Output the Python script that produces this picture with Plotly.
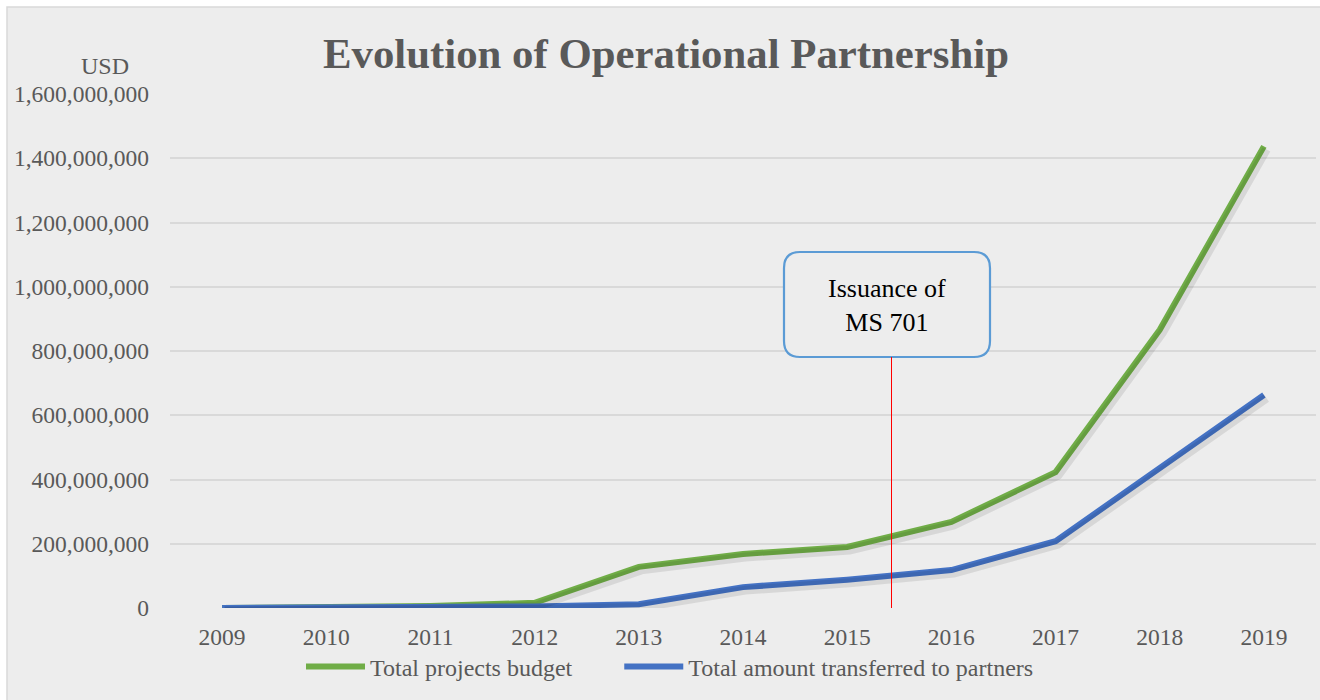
import plotly.graph_objects as go

years = ["2009", "2010", "2011", "2012", "2013", "2014", "2015", "2016", "2017", "2018", "2019"]
budget = [0, 1e6, 6e6, 16e6, 128e6, 168e6, 190e6, 268e6, 423e6, 866e6, 1437e6]
transferred = [0, 0.5e6, 2e6, 5e6, 12e6, 65e6, 88e6, 118e6, 208e6, 434e6, 663e6]
series_names = ["Total projects budget", "Total amount transferred to partners"]
y_ticks = [0, 200e6, 400e6, 600e6, 800e6, 1000e6, 1200e6, 1400e6, 1600e6]
y_tick_labels = ["0", "200,000,000", "400,000,000", "600,000,000", "800,000,000",
                 "1,000,000,000", "1,200,000,000", "1,400,000,000", "1,600,000,000"]

GREEN = "#70ad47"
BLUE = "#4472c4"
TXT = "#595959"
FONT = "Liberation Serif"

W, H = 1320, 700
L, R, T, B = 170, 4, 94, 92
pw = W - L - R
ph = H - T - B
YMAX = 1.6e9
n = len(years)
step_px = pw / n
sx = 2.5  # shadow offset px
sy = 3.0

fig = go.Figure()

# shadows on overlay axes (shifted scale)
for vals in (budget, transferred):
    fig.add_trace(go.Scatter(x=list(range(n)), y=vals, mode="lines", xaxis="x2", yaxis="y2",
                             line=dict(color="rgba(0,0,0,0.09)", width=9),
                             showlegend=False, hoverinfo="skip"))

fig.add_trace(go.Scatter(x=years, y=budget, mode="lines",
                         name=series_names[0] + "\u00a0" * 7,
                         line=dict(color=GREEN, width=6)))
fig.add_trace(go.Scatter(x=years, y=transferred, mode="lines", name=series_names[1],
                         line=dict(color=BLUE, width=6)))

def px_x(p):
    return (p - L) / pw

def px_y(p):
    return (H - B - p) / ph

shapes = []
# chart background with border
shapes.append(dict(type="rect", xref="paper", yref="paper", layer="below",
                   x0=px_x(7), x1=px_x(1330), y0=px_y(710), y1=px_y(7),
                   fillcolor="#ededed", line=dict(color="#d9d9d9", width=1.5)))
# rounded box
bx0, bx1, by0, by1, r = 784, 990, 252, 357, 16
path = (f"M {px_x(bx0 + r)},{px_y(by0)} L {px_x(bx1 - r)},{px_y(by0)} "
        f"Q {px_x(bx1)},{px_y(by0)} {px_x(bx1)},{px_y(by0 + r)} "
        f"L {px_x(bx1)},{px_y(by1 - r)} Q {px_x(bx1)},{px_y(by1)} {px_x(bx1 - r)},{px_y(by1)} "
        f"L {px_x(bx0 + r)},{px_y(by1)} Q {px_x(bx0)},{px_y(by1)} {px_x(bx0)},{px_y(by1 - r)} "
        f"L {px_x(bx0)},{px_y(by0 + r)} Q {px_x(bx0)},{px_y(by0)} {px_x(bx0 + r)},{px_y(by0)} Z")
shapes.append(dict(type="path", xref="paper", yref="paper", path=path,
                   fillcolor="#ededed", line=dict(color="#5b9bd5", width=2.2)))
# red marker line
shapes.append(dict(type="line", xref="paper", yref="paper", x0=px_x(891.5), x1=px_x(891.5),
                   y0=0, y1=px_y(by1), line=dict(color="#ff0000", width=1)))

annotations = [
    dict(text="Issuance of<br>MS 701", xref="paper", yref="paper",
         x=px_x((bx0 + bx1) / 2), y=px_y((by0 + by1) / 2 + 1), showarrow=False,
         font=dict(family=FONT, size=26, color="#000000"), xanchor="center", yanchor="middle"),
    dict(text="USD", xref="paper", yref="paper", x=px_x(105), y=px_y(66), showarrow=False,
         font=dict(family=FONT, size=24, color=TXT), xanchor="center", yanchor="middle"),
    dict(text="<b>Evolution of Operational Partnership</b>", xref="paper", yref="paper",
         x=px_x(666), y=px_y(53), showarrow=False,
         font=dict(family=FONT, size=42.8, color=TXT), xanchor="center", yanchor="middle"),
]

fig.update_layout(
    width=W, height=H,
    margin=dict(l=L, r=R, t=T, b=B),
    paper_bgcolor="white",
    plot_bgcolor="rgba(0,0,0,0)",
    shapes=shapes,
    annotations=annotations,
    showlegend=True,
    legend=dict(orientation="h", x=px_x(301), y=px_y(667), xanchor="left", yanchor="middle",
                font=dict(family=FONT, size=24, color=TXT), bgcolor="rgba(0,0,0,0)",
                itemwidth=59, tracegroupgap=0),
    xaxis=dict(type="category", range=[-0.5, n - 0.5], showgrid=False, zeroline=False,
               showline=False, ticks="", tickfont=dict(family=FONT, size=23.5, color=TXT),
               ticklabelstandoff=12),
    yaxis=dict(range=[0, YMAX], tickvals=y_ticks, ticktext=y_tick_labels,
               showgrid=True, gridcolor="#d9d9d9", gridwidth=1.5, zeroline=False,
               showline=False, ticks="", tickfont=dict(family=FONT, size=23.5, color=TXT),
               ticklabelstandoff=20),
    xaxis2=dict(overlaying="x", range=[-0.5 - sx / step_px, n - 0.5 - sx / step_px],
                visible=False),
    yaxis2=dict(overlaying="y", range=[sy * YMAX / ph, YMAX + sy * YMAX / ph], visible=False),
)

fig.write_html("out.html", config={"displayModeBar": False},
               post_script="document.body.style.margin='0';")
